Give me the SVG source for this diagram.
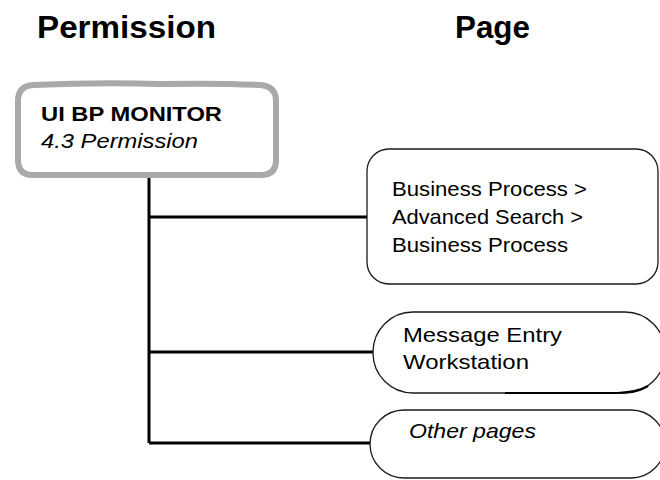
<svg xmlns="http://www.w3.org/2000/svg" width="660" height="480" viewBox="0 0 660 480">
<style>
.title{font-family:"Liberation Sans",Arial,sans-serif;font-weight:bold;font-size:31px;fill:#000}
.t{font-family:"Liberation Sans",Arial,sans-serif;font-size:21px;fill:#000}
.b{font-weight:bold}
.i{font-style:italic}
.box{fill:#fff;stroke:#1a1a1a;stroke-width:1.3}
.conn{fill:none;stroke:#000;stroke-width:3}
</style>
<rect width="660" height="480" fill="#fff"/>
<g id="headers">
<text class="title" x="37" y="38" textLength="179" lengthAdjust="spacingAndGlyphs">Permission</text>
<text class="title" x="455" y="38" textLength="75" lengthAdjust="spacingAndGlyphs">Page</text>
</g>
<g id="connectors">
<path class="conn" d="M149 176 V443 M149 217 H369 M149 352 H373 M149 443 H371"/>
</g>
<g id="node-ui-bp-monitor">
<path d="M33 85 Q100 82 160 84 Q220 83 260 85 Q276 86 276 101 V160 Q276 175 261 175 H33 Q18 175 18 160 V101 Q18 86 33 85 Z" fill="#fff" stroke="#a9a9a9" stroke-width="6"/>
<text class="t b" x="41" y="121" textLength="181" lengthAdjust="spacingAndGlyphs">UI BP MONITOR</text>
<text class="t i" x="41" y="148" textLength="157" lengthAdjust="spacingAndGlyphs">4.3 Permission</text>
</g>
<g id="node-business-process">
<rect class="box" x="367" y="149" width="291" height="135" rx="22"/>
<text class="t" x="392" y="196" textLength="195" lengthAdjust="spacingAndGlyphs">Business Process &gt;</text>
<text class="t" x="392" y="224" textLength="191" lengthAdjust="spacingAndGlyphs">Advanced Search &gt;</text>
<text class="t" x="392" y="252" textLength="176" lengthAdjust="spacingAndGlyphs">Business Process</text>
</g>
<g id="node-message-entry">
<rect class="box" x="373" y="312" width="292" height="81" rx="40"/>
<path d="M505 393 H618 Q638 392 648 386" fill="none" stroke="#000" stroke-width="2.2"/>
<text class="t" x="403" y="342" textLength="159" lengthAdjust="spacingAndGlyphs">Message Entry</text>
<text class="t" x="403" y="369" textLength="126" lengthAdjust="spacingAndGlyphs">Workstation</text>
</g>
<g id="node-other-pages">
<rect class="box" x="370" y="410" width="295" height="68" rx="34"/>
<text class="t i" x="409" y="438" textLength="127" lengthAdjust="spacingAndGlyphs">Other pages</text>
</g>
</svg>
